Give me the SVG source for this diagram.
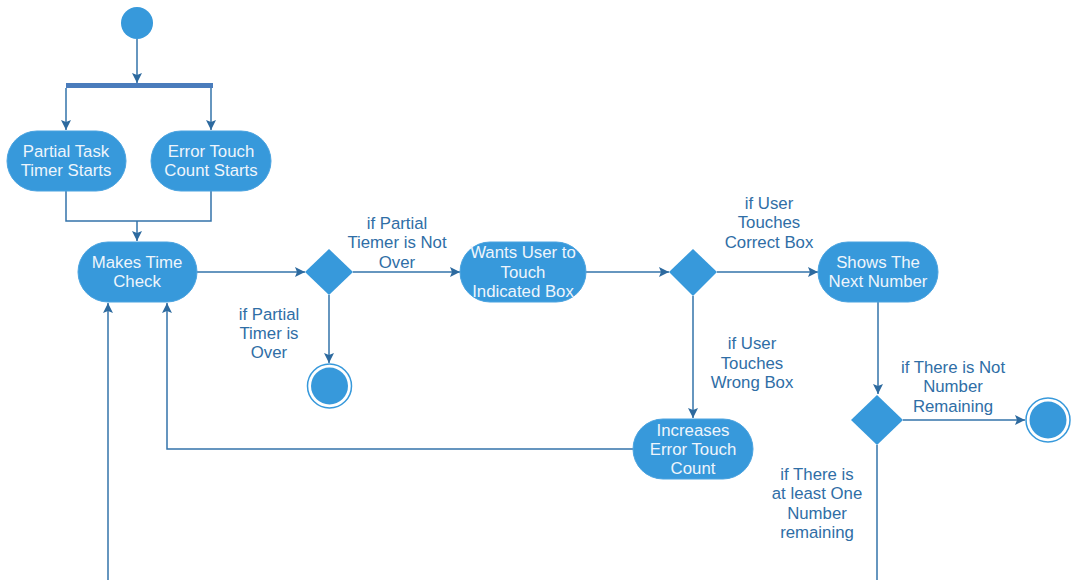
<svg xmlns="http://www.w3.org/2000/svg" width="1071" height="580" viewBox="0 0 1071 580">
  <style>
    .node { fill: #3799db; stroke: #4aa3e0; stroke-width: 1; }
    .decision { fill: #3799db; }
    .ntext { font-family: "Liberation Sans", Arial, sans-serif; font-size: 16.8px; fill: #eef5fc; text-anchor: middle; }
    .label { font-family: "Liberation Sans", Arial, sans-serif; font-size: 16.8px; fill: #2f6ea6; text-anchor: middle; }
    .edge { fill: none; stroke: #3373aa; stroke-width: 1.5; }
  </style>
  <defs>
    <marker id="arrow" viewBox="0 0 10 10" refX="10" refY="5" markerWidth="10" markerHeight="10" markerUnits="userSpaceOnUse" orient="auto">
      <path d="M0,0 L10,5 L0,10 L2,5 z" fill="#2d6a9f"/>
    </marker>
  </defs>
  <rect width="1071" height="580" fill="#ffffff"/>

  <g id="connectors">
    <path class="edge" d="M137,39 V83" marker-end="url(#arrow)"/>
    <path class="edge" d="M66,88 V130" marker-end="url(#arrow)"/>
    <path class="edge" d="M211,88 V130" marker-end="url(#arrow)"/>
    <path class="edge" d="M66,191 V221 H211 V191"/>
    <path class="edge" d="M137,221 V241" marker-end="url(#arrow)"/>
    <path class="edge" d="M197,272 H305" marker-end="url(#arrow)"/>
    <path class="edge" d="M329,295 V363" marker-end="url(#arrow)"/>
    <path class="edge" d="M353,272 H460" marker-end="url(#arrow)"/>
    <path class="edge" d="M586,272 H669" marker-end="url(#arrow)"/>
    <path class="edge" d="M717,272 H818" marker-end="url(#arrow)"/>
    <path class="edge" d="M693,296 V418" marker-end="url(#arrow)"/>
    <path class="edge" d="M633,449 H167 V303" marker-end="url(#arrow)"/>
    <path class="edge" d="M108,580 V303" marker-end="url(#arrow)"/>
    <path class="edge" d="M878,302 V394" marker-end="url(#arrow)"/>
    <path class="edge" d="M903,420 H1025" marker-end="url(#arrow)"/>
    <path class="edge" d="M877,445 V580"/>
  </g>

  <g id="start">
    <circle cx="137" cy="23" r="16" fill="#3799db"/>
  </g>

  <g id="fork">
    <rect x="66" y="83" width="147" height="5" fill="#4a7cbc"/>
  </g>

  <g id="partial-task-timer">
    <rect class="node" x="7" y="131" width="119" height="60" rx="30"/>
    <text class="ntext" x="66" y="157">Partial Task</text>
    <text class="ntext" x="66" y="176">Timer Starts</text>
  </g>

  <g id="error-touch-count">
    <rect class="node" x="151" y="131" width="120" height="60" rx="30"/>
    <text class="ntext" x="211" y="157">Error Touch</text>
    <text class="ntext" x="211" y="176">Count Starts</text>
  </g>

  <g id="makes-time-check">
    <rect class="node" x="78" y="242" width="119" height="60" rx="30"/>
    <text class="ntext" x="137" y="268">Makes Time</text>
    <text class="ntext" x="137" y="287">Check</text>
  </g>

  <g id="timer-decision">
    <polygon class="decision" points="329,249 353,272 329,295 305,272"/>
    <text class="label" x="397" y="229">if Partial</text>
    <text class="label" x="397" y="248">Tiemer is Not</text>
    <text class="label" x="397" y="268">Over</text>
    <text class="label" x="269" y="320">if Partial</text>
    <text class="label" x="269" y="339">Timer is</text>
    <text class="label" x="269" y="358">Over</text>
  </g>

  <g id="end-timer">
    <circle cx="329.5" cy="386" r="22" fill="#ffffff" stroke="#3799db" stroke-width="1.5"/>
    <circle cx="329.5" cy="386" r="18.5" fill="#3799db"/>
  </g>

  <g id="wants-user-touch">
    <rect class="node" x="460" y="242" width="126" height="60" rx="30"/>
    <text class="ntext" x="523" y="258">Wants User to</text>
    <text class="ntext" x="523" y="278">Touch</text>
    <text class="ntext" x="523" y="297">Indicated Box</text>
  </g>

  <g id="touch-decision">
    <polygon class="decision" points="693,249 717,272 693,296 669,272"/>
    <text class="label" x="769" y="209">if User</text>
    <text class="label" x="769" y="228">Touches</text>
    <text class="label" x="769" y="248">Correct Box</text>
    <text class="label" x="752" y="349">if User</text>
    <text class="label" x="752" y="369">Touches</text>
    <text class="label" x="752" y="388">Wrong Box</text>
  </g>

  <g id="shows-next-number">
    <rect class="node" x="818" y="242" width="120" height="60" rx="30"/>
    <text class="ntext" x="878" y="268">Shows The</text>
    <text class="ntext" x="878" y="287">Next Number</text>
  </g>

  <g id="increases-error-count">
    <rect class="node" x="633" y="419" width="120" height="60" rx="30"/>
    <text class="ntext" x="693" y="436">Increases</text>
    <text class="ntext" x="693" y="455">Error Touch</text>
    <text class="ntext" x="693" y="474">Count</text>
  </g>

  <g id="number-decision">
    <polygon class="decision" points="877,395 903,420 877,445 851,420"/>
    <text class="label" x="953" y="373">if There is Not</text>
    <text class="label" x="953" y="392">Number</text>
    <text class="label" x="953" y="412">Remaining</text>
    <text class="label" x="817" y="480">if There is</text>
    <text class="label" x="817" y="499">at least One</text>
    <text class="label" x="817" y="519">Number</text>
    <text class="label" x="817" y="538">remaining</text>
  </g>

  <g id="end-numbers">
    <circle cx="1048" cy="420" r="22" fill="#ffffff" stroke="#3799db" stroke-width="1.5"/>
    <circle cx="1048" cy="420" r="18.5" fill="#3799db"/>
  </g>
</svg>
